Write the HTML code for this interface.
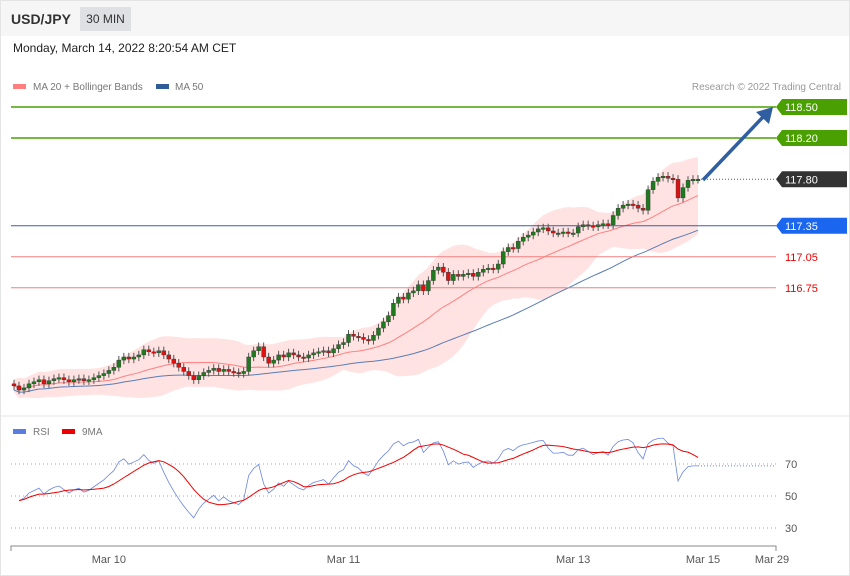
<!DOCTYPE html>
<html><head><meta charset="utf-8"><style>
body{margin:0;width:850px;height:576px;background:#fff;font-family:"Liberation Sans",sans-serif;overflow:hidden;position:relative}
#frame{position:absolute;left:0;top:0;width:848px;height:574px;border:1px solid #e4e4e4}
#hdr{position:absolute;left:1px;top:1px;width:848px;height:35px;background:#f6f6f6}
</style></head><body>
<div id="frame"></div>
<div id="hdr">
<span style="position:absolute;left:10px;top:10px;font-size:14px;font-weight:bold;color:#333">USD/JPY</span>
<span style="position:absolute;left:79px;top:6px;width:51px;height:24px;background:#dfe0e4;font-size:12px;color:#333;line-height:24px;text-align:center">30 MIN</span>
</div>
<div style="position:absolute;left:13px;top:41px;font-size:12px;color:#222">Monday, March 14, 2022 8:20:54 AM CET</div>
<svg id="c" width="850" height="576" style="position:absolute;left:0;top:0" font-family="Liberation Sans, sans-serif"></svg>
<script>
const closes=[115.80,115.76,115.78,115.82,115.84,115.86,115.82,115.85,
115.87,115.88,115.86,115.84,115.86,115.87,115.85,115.86,115.88,115.90,
115.92,115.95,115.98,116.05,116.08,116.06,
116.08,116.10,116.15,116.13,116.12,116.14,116.10,116.06,116.02,
115.98,115.94,115.90,115.86,115.90,115.93,
115.95,115.97,115.94,115.96,115.94,115.93,115.92,115.94,116.08,
116.14,116.18,116.08,116.02,
116.05,116.10,116.08,116.12,116.10,116.08,116.07,116.10,116.12,116.13,116.14,116.12,116.16,
116.20,116.22,116.30,116.28,116.27,116.25,
116.24,116.29,116.36,116.42,116.48,116.60,116.66,
116.64,116.70,116.72,116.78,116.72,116.82,116.92,
116.95,116.90,116.82,116.88,116.86,116.88,116.89,116.86,116.90,116.93,116.94,116.93,116.98,
117.10,117.14,117.13,117.20,117.24,117.26,117.29,117.32,
117.33,117.30,117.28,117.28,117.29,117.28,117.28,117.34,117.36,117.35,117.34,117.36,
117.37,117.36,117.45,117.52,117.55,
117.56,117.55,117.52,117.50,117.70,117.78,
117.82,117.83,117.81,117.80,117.62,117.72,117.79,117.80,117.80];
const levelPrices=[118.50,118.20,117.80,117.35,117.05,116.75];
const levelLabels=["118.50","118.20","117.80","117.35","117.05","116.75"];
const xTickLabels=["Mar 10","Mar 11","Mar 13","Mar 15","Mar 29"];
const xTickIdx=[19,66,112,138,152];
const rsiTicks=[70,50,30];

const svg=document.getElementById('c');const NS='http://www.w3.org/2000/svg';
function mk(t,a,p){const e=document.createElementNS(NS,t);for(const k in a)e.setAttribute(k,a[k]);(p||svg).appendChild(e);return e;}
const X=i=>14+i*(684/137);
const Y=p=>107+(118.5-p)*103.3;
const RY=v=>496-(v-50)*1.6;
let e=mk('line',{x1:1,y1:416,x2:849,y2:416,stroke:'#e4e4e4'});

e=mk('rect',{x:13,y:84,width:13,height:5,fill:'#ff7f7f'});
e=mk('text',{x:33,y:90,'font-size':10,fill:'#777'});e.textContent='MA 20 + Bollinger Bands';
e=mk('rect',{x:156,y:84,width:13,height:5,fill:'#2f5d9a'});
e=mk('text',{x:175,y:90,'font-size':10,fill:'#777'});e.textContent='MA 50';
e=mk('text',{x:841,y:90,'font-size':10,fill:'#999','text-anchor':'end'});e.textContent='Research © 2022 Trading Central';
const n=closes.length;const ma20=[],up=[],lo=[],ma50=[];
for(let i=0;i<n;i++){const s=closes.slice(Math.max(0,i-19),i+1);const m=s.reduce((a,b)=>a+b,0)/s.length;
const sd=Math.sqrt(s.reduce((a,b)=>a+(b-m)*(b-m),0)/s.length);ma20.push(m);up.push(m+2*sd+0.06);lo.push(m-2*sd-0.06);
const s5=closes.slice(Math.max(0,i-49),i+1);ma50.push(s5.reduce((a,b)=>a+b,0)/s5.length-0.04);}
let band='M'+up.map((v,i)=>X(i)+','+Y(v)).join('L')+'L'+lo.map((v,i)=>X(i)+','+Y(v)).reverse().join('L')+'Z';
e=mk('path',{d:band,fill:'#ffd6d6',opacity:0.7});
e=mk('polyline',{points:ma20.map((v,i)=>X(i)+','+Y(v)).join(' '),fill:'none',stroke:'#ff8080','stroke-width':1});
e=mk('polyline',{points:ma50.map((v,i)=>X(i)+','+Y(v)).join(' '),fill:'none',stroke:'#5a7db5','stroke-width':1});
const lvlStyle=[['#4aa000','#4aa000','#fff',1.5],['#4aa000','#4aa000','#fff',1.5],['#333','#333','#fff',0],['#3a5fa0','#1a66ee','#fff',1],['#f08080',null,'#e00',1],['#f08080',null,'#e00',1]];
levelPrices.forEach((p,k)=>{const y=Y(p);const st=lvlStyle[k];
if(st[3]>0){e=mk('line',{x1:11,y1:y,x2:776,y2:y,stroke:st[0],'stroke-width':st[3]});}
else{e=mk('line',{x1:X(n-1),y1:y,x2:776,y2:y,stroke:'#555','stroke-dasharray':'1,2'});}

if(st[1]){e=mk('path',{d:`M776,${y}L782,${y-8}H847V${y+8}H782Z`,fill:st[1]});}
e=mk('text',{x:785,y:y+4,'font-size':11,fill:st[1]?'#fff':st[2]});e.textContent=levelLabels[k];});
for(let i=0;i<n;i++){const c=closes[i],o=i?closes[i-1]:c+0.02;const hi=Math.max(o,c)+0.04,lw=Math.min(o,c)-0.04;const x=X(i);
const g=mk('g',{});
mk('line',{x1:x,y1:Y(hi),x2:x,y2:Y(lw),stroke:'#555','stroke-width':1},g);
const col=c>=o?'#1f7a1f':'#dd1111';mk('rect',{x:x-2,y:Y(Math.max(o,c)),width:4,height:Math.max(1.5,Math.abs(Y(o)-Y(c))),fill:col,stroke:'#333','stroke-width':0.4},g);}
e=mk('g',{});
mk('line',{x1:703,y1:180,x2:763,y2:117,stroke:'#2f5fa0','stroke-width':3.5},e);
mk('path',{d:'M773,107L769,124L756,112Z',fill:'#2f5fa0'},e);
e=mk('rect',{x:13,y:429,width:13,height:5,fill:'#5a7de0'});
e=mk('text',{x:33,y:435,'font-size':10,fill:'#777'});e.textContent='RSI';
e=mk('rect',{x:62,y:429,width:13,height:5,fill:'#e00'});
e=mk('text',{x:82,y:435,'font-size':10,fill:'#777'});e.textContent='9MA';
rsiTicks.forEach(t=>{e=mk('line',{x1:11,y1:RY(t),x2:776,y2:RY(t),stroke:'#aaa','stroke-dasharray':'1,3'});
e=mk('text',{x:785,y:RY(t)+4,'font-size':11,fill:'#555'});e.textContent=t;});
const rsi=[];let ag=0.025,al=0.025;
for(let i=1;i<n;i++){const d=closes[i]-closes[i-1];const g=Math.max(d,0),l=Math.max(-d,0);
ag=(ag*13+g)/14;al=(al*13+l)/14;rsi.push({i,v:100-100/(1+ag/(al||1e-9))});}
const rma=rsi.map((r,k)=>{const s=rsi.slice(Math.max(0,k-8),k+1);return {i:r.i,v:s.reduce((a,b)=>a+b.v,0)/s.length};});
e=mk('polyline',{points:rsi.map(r=>X(r.i)+','+RY(r.v)).join(' '),fill:'none',stroke:'#6a86e0','stroke-width':0.8});
e=mk('polyline',{points:rma.map(r=>X(r.i)+','+RY(r.v)).join(' '),fill:'none',stroke:'#e00','stroke-width':1});
const lastR=rsi[rsi.length-1].v;
e=mk('line',{x1:X(n-1),y1:RY(lastR),x2:776,y2:RY(lastR),stroke:'#6a86e0','stroke-dasharray':'1,2'});
e=mk('path',{d:'M11,551V546H776V551',fill:'none',stroke:'#888'});
xTickLabels.forEach((t,k)=>{e=mk('text',{x:Math.min(X(xTickIdx[k]),772),y:563,'font-size':11,fill:'#555','text-anchor':'middle'});e.textContent=t;});
</script>
</body></html>
